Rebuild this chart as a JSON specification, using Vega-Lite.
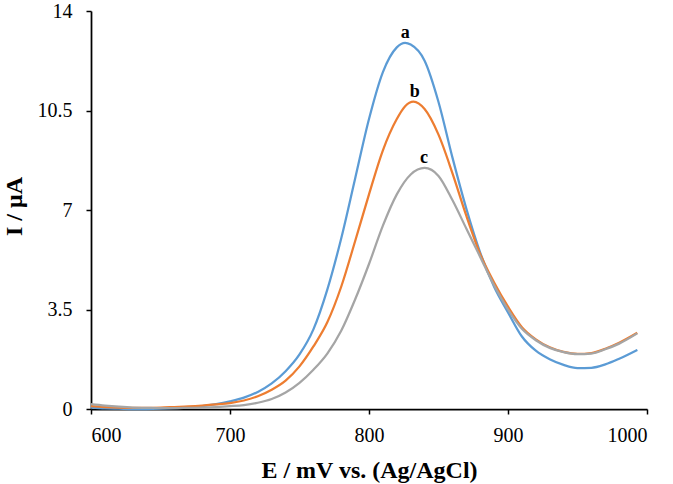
{
  "$schema": "https://vega.github.io/schema/vega-lite/v6.json",
  "description": "DPV curves a, b, c",
  "width": 556,
  "height": 398,
  "autosize": {"type": "none"},
  "padding": {"left": 91, "top": 11, "right": 26, "bottom": 75},
  "background": "white",
  "config": {
    "view": {"stroke": null},
    "font": "Liberation Serif",
    "axis": {
      "grid": false,
      "domainColor": "black",
      "domainWidth": 1.75,
      "tickColor": "black",
      "tickWidth": 1.5,
      "tickSize": 5,
      "labelFont": "Liberation Serif",
      "labelFontSize": 20,
      "labelColor": "black",
      "titleFont": "Liberation Serif",
      "titleFontSize": 24,
      "titleFontWeight": "bold",
      "titleColor": "black"
    }
  },
  "datasets": {
    "curves": [
      {"series": "a", "E": 600, "I": 0.05}, {"series": "a", "E": 610, "I": 0.02}, {"series": "a", "E": 620, "I": 0.01},
      {"series": "a", "E": 630, "I": 0.0}, {"series": "a", "E": 640, "I": 0.0}, {"series": "a", "E": 650, "I": 0.01},
      {"series": "a", "E": 660, "I": 0.03}, {"series": "a", "E": 670, "I": 0.06}, {"series": "a", "E": 680, "I": 0.1},
      {"series": "a", "E": 690, "I": 0.17}, {"series": "a", "E": 700, "I": 0.27}, {"series": "a", "E": 710, "I": 0.4},
      {"series": "a", "E": 720, "I": 0.6}, {"series": "a", "E": 730, "I": 0.9}, {"series": "a", "E": 740, "I": 1.33},
      {"series": "a", "E": 750, "I": 1.92}, {"series": "a", "E": 760, "I": 2.8}, {"series": "a", "E": 770, "I": 4.2},
      {"series": "a", "E": 780, "I": 6.0}, {"series": "a", "E": 790, "I": 8.1}, {"series": "a", "E": 800, "I": 10.2},
      {"series": "a", "E": 810, "I": 11.85}, {"series": "a", "E": 820, "I": 12.72}, {"series": "a", "E": 826, "I": 12.88},
      {"series": "a", "E": 830, "I": 12.82}, {"series": "a", "E": 840, "I": 12.25}, {"series": "a", "E": 850, "I": 10.8},
      {"series": "a", "E": 860, "I": 8.85}, {"series": "a", "E": 870, "I": 7.05}, {"series": "a", "E": 880, "I": 5.5},
      {"series": "a", "E": 890, "I": 4.3}, {"series": "a", "E": 900, "I": 3.4}, {"series": "a", "E": 910, "I": 2.55},
      {"series": "a", "E": 920, "I": 2.05}, {"series": "a", "E": 930, "I": 1.75}, {"series": "a", "E": 940, "I": 1.55},
      {"series": "a", "E": 950, "I": 1.44}, {"series": "a", "E": 960, "I": 1.45}, {"series": "a", "E": 970, "I": 1.57},
      {"series": "a", "E": 980, "I": 1.77}, {"series": "a", "E": 993, "I": 2.08},

      {"series": "b", "E": 600, "I": 0.1}, {"series": "b", "E": 610, "I": 0.07}, {"series": "b", "E": 620, "I": 0.05},
      {"series": "b", "E": 630, "I": 0.04}, {"series": "b", "E": 640, "I": 0.04}, {"series": "b", "E": 650, "I": 0.05},
      {"series": "b", "E": 660, "I": 0.07}, {"series": "b", "E": 670, "I": 0.09}, {"series": "b", "E": 680, "I": 0.12},
      {"series": "b", "E": 690, "I": 0.16}, {"series": "b", "E": 700, "I": 0.21}, {"series": "b", "E": 710, "I": 0.3},
      {"series": "b", "E": 720, "I": 0.45}, {"series": "b", "E": 730, "I": 0.68}, {"series": "b", "E": 740, "I": 1.0},
      {"series": "b", "E": 750, "I": 1.5}, {"series": "b", "E": 760, "I": 2.2}, {"series": "b", "E": 770, "I": 3.05},
      {"series": "b", "E": 780, "I": 4.3}, {"series": "b", "E": 790, "I": 5.9}, {"series": "b", "E": 800, "I": 7.55},
      {"series": "b", "E": 810, "I": 9.1}, {"series": "b", "E": 820, "I": 10.2}, {"series": "b", "E": 826, "I": 10.65},
      {"series": "b", "E": 832, "I": 10.81}, {"series": "b", "E": 840, "I": 10.55}, {"series": "b", "E": 850, "I": 9.65},
      {"series": "b", "E": 860, "I": 8.3}, {"series": "b", "E": 870, "I": 6.8}, {"series": "b", "E": 880, "I": 5.45},
      {"series": "b", "E": 890, "I": 4.45}, {"series": "b", "E": 900, "I": 3.6}, {"series": "b", "E": 910, "I": 2.88},
      {"series": "b", "E": 920, "I": 2.45}, {"series": "b", "E": 930, "I": 2.17}, {"series": "b", "E": 940, "I": 2.01},
      {"series": "b", "E": 950, "I": 1.94}, {"series": "b", "E": 960, "I": 1.97}, {"series": "b", "E": 970, "I": 2.12},
      {"series": "b", "E": 980, "I": 2.33}, {"series": "b", "E": 993, "I": 2.68},

      {"series": "c", "E": 600, "I": 0.17}, {"series": "c", "E": 610, "I": 0.12}, {"series": "c", "E": 620, "I": 0.08},
      {"series": "c", "E": 630, "I": 0.05}, {"series": "c", "E": 640, "I": 0.04}, {"series": "c", "E": 650, "I": 0.03},
      {"series": "c", "E": 660, "I": 0.03}, {"series": "c", "E": 670, "I": 0.04}, {"series": "c", "E": 680, "I": 0.05},
      {"series": "c", "E": 690, "I": 0.07}, {"series": "c", "E": 700, "I": 0.1}, {"series": "c", "E": 710, "I": 0.14},
      {"series": "c", "E": 720, "I": 0.22}, {"series": "c", "E": 730, "I": 0.35}, {"series": "c", "E": 740, "I": 0.58},
      {"series": "c", "E": 750, "I": 0.92}, {"series": "c", "E": 760, "I": 1.38}, {"series": "c", "E": 770, "I": 1.95},
      {"series": "c", "E": 780, "I": 2.75}, {"series": "c", "E": 790, "I": 3.85}, {"series": "c", "E": 800, "I": 5.1},
      {"series": "c", "E": 810, "I": 6.45}, {"series": "c", "E": 820, "I": 7.55}, {"series": "c", "E": 830, "I": 8.25},
      {"series": "c", "E": 840, "I": 8.48}, {"series": "c", "E": 850, "I": 8.2}, {"series": "c", "E": 860, "I": 7.35},
      {"series": "c", "E": 870, "I": 6.35}, {"series": "c", "E": 880, "I": 5.35}, {"series": "c", "E": 890, "I": 4.35},
      {"series": "c", "E": 900, "I": 3.5}, {"series": "c", "E": 910, "I": 2.82}, {"series": "c", "E": 920, "I": 2.42},
      {"series": "c", "E": 930, "I": 2.15}, {"series": "c", "E": 940, "I": 2.0}, {"series": "c", "E": 950, "I": 1.93},
      {"series": "c", "E": 960, "I": 1.95}, {"series": "c", "E": 970, "I": 2.1}, {"series": "c", "E": 980, "I": 2.3},
      {"series": "c", "E": 993, "I": 2.66}
    ],
    "labels": [
      {"series": "a", "E": 826, "I": 12.88},
      {"series": "b", "E": 833, "I": 10.81},
      {"series": "c", "E": 839.5, "I": 8.48}
    ]
  },
  "layer": [
    {
      "data": {"name": "curves"},
      "mark": {"type": "line", "strokeWidth": 2.25, "interpolate": "monotone"},
      "encoding": {
        "x": {
          "field": "E", "type": "quantitative",
          "scale": {"domain": [600, 1000], "nice": false, "zero": false},
          "axis": {
            "title": "E / mV vs. (Ag/AgCl)",
            "values": [600, 700, 800, 900, 1000],
            "labelExpr": "toString(datum.value)",
            "labelPadding": 11,
            "titleY": 68,
            "titleBaseline": "alphabetic"
          }
        },
        "y": {
          "field": "I", "type": "quantitative",
          "scale": {"domain": [0, 14], "nice": false},
          "axis": {
            "title": "I / μA",
            "values": [0, 3.5, 7, 10.5, 14],
            "labelExpr": "toString(datum.value)",
            "labelPadding": 14,
            "titleAngle": -90,
            "titleAlign": "center",
            "titleBaseline": "alphabetic",
            "titleX": -70,
            "titleY": 195
          }
        },
        "color": {
          "field": "series", "type": "nominal",
          "scale": {"domain": ["a", "b", "c"], "range": ["#5B9BD5", "#ED7D31", "#A5A5A5"]},
          "legend": null
        }
      }
    },
    {
      "data": {"name": "labels"},
      "mark": {"type": "text", "font": "Liberation Serif", "fontWeight": "bold", "fontSize": 18, "baseline": "alphabetic", "dy": -5, "color": "black"},
      "encoding": {
        "x": {"field": "E", "type": "quantitative"},
        "y": {"field": "I", "type": "quantitative"},
        "text": {"field": "series"}
      }
    }
  ]
}
